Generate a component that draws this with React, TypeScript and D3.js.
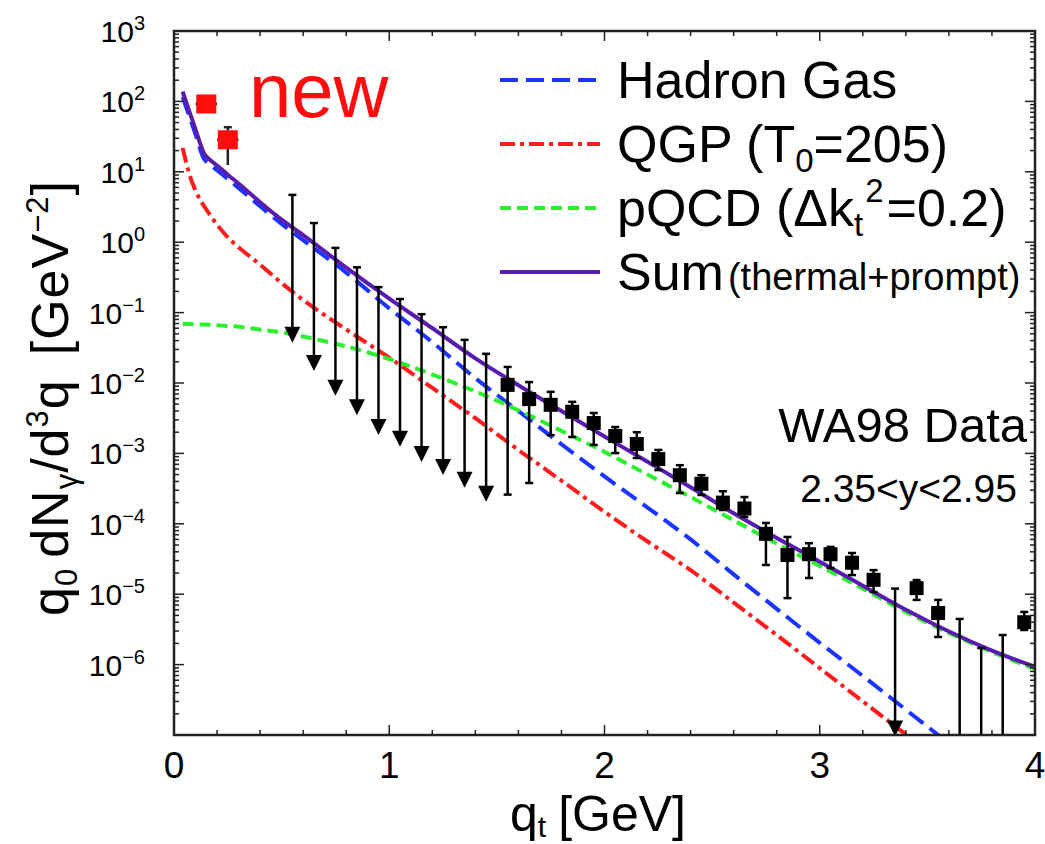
import React from 'react';
import * as d3 from 'd3';

// Plot geometry
const W = 1045;
const H = 844;
const FRAME = { left: 174, right: 1035, top: 31, bottom: 735 };
const FONT = '"Liberation Sans", Arial, Helvetica, sans-serif';

// Model curves, q_t grid in GeV
const qGrid = [0.04, 0.07, 0.10, 0.14, 0.16, 0.20, 0.25, 0.30, 0.40, 0.50, 0.60, 0.80, 1.0, 1.2, 1.4, 1.6, 1.8, 2.0, 2.2, 2.4, 2.6, 2.8, 3.0, 3.2, 3.4, 3.6, 3.8, 4.0];

const hadronGas = [115, 63, 33.9, 15.1, 13.2, 10.5, 7.9, 5.9, 3.24, 1.82, 1.07, 0.37, 0.115, 0.038, 0.0117, 0.0040, 1.35e-3, 4.7e-4, 1.70e-4, 6.0e-5, 1.91e-5, 6.2e-6, 2.04e-6, 6.9e-7, 2.29e-7, 7.6e-8];

const qgp = [21.9, 9.5, 5.4, 3.24, 2.63, 1.78, 1.17, 0.85, 0.48, 0.263, 0.151, 0.0575, 0.0229, 0.0085, 0.00316, 1.12e-3, 4.1e-4, 1.48e-4, 5.6e-5, 2.19e-5, 7.6e-6, 2.63e-6, 8.9e-7, 3.0e-7, 1.02e-7, 3.5e-8];

const pqcd = [0.069, 0.069, 0.068, 0.0676, 0.0673, 0.066, 0.0646, 0.063, 0.0575, 0.0525, 0.0457, 0.0331, 0.0219, 0.0132, 0.0076, 0.0041, 2.09e-3, 1.05e-3, 5.0e-4, 2.4e-4, 1.12e-4, 5.25e-5, 2.51e-5, 1.20e-5, 5.6e-6, 2.82e-6, 1.51e-6, 8.7e-7];

const sumThermalPrompt = [138, 74, 40, 18.2, 15.5, 12.3, 9.1, 6.8, 3.7, 2.09, 1.26, 0.436, 0.158, 0.060, 0.0224, 0.0093, 0.0040, 1.74e-3, 7.6e-4, 3.3e-4, 1.41e-4, 6.3e-5, 2.9e-5, 1.32e-5, 6.0e-6, 2.95e-6, 1.58e-6, 9.3e-7];

// WA98 measured points
const wa98Q = [1.55, 1.65, 1.75, 1.85, 1.95, 2.05, 2.15, 2.25, 2.35, 2.45, 2.55, 2.65, 2.75, 2.85, 2.95, 3.05, 3.15, 3.25, 3.45, 3.55, 3.95];
const wa98Val = [0.0094, 0.0059, 0.0049, 0.0039, 0.0027, 1.77e-3, 1.36e-3, 8.3e-4, 4.9e-4, 3.7e-4, 2.0e-4, 1.65e-4, 7.2e-5, 3.6e-5, 3.7e-5, 3.7e-5, 2.8e-5, 1.6e-5, 1.22e-5, 5.4e-6, 4.0e-6];
const wa98Hi = [0.0169, 0.0103, 0.0075, 0.0054, 0.00375, 2.37e-3, 2.0e-3, 1.12e-3, 6.8e-4, 4.9e-4, 2.9e-4, 2.4e-4, 1.03e-4, 6.5e-5, 5.3e-5, 4.7e-5, 3.85e-5, 2.2e-5, 1.59e-5, 8.3e-6, 5.6e-6];
const wa98Lo = [2.6e-4, 3.8e-4, 1.82e-3, 1.71e-3, 1.32e-3, 1.01e-3, 8.6e-4, 5.8e-4, 2.74e-4, 2.57e-4, 1.57e-4, 1.25e-4, 2.6e-5, 8.8e-6, 1.7e-5, 2.36e-5, 1.87e-5, 1.07e-5, 8.3e-6, 2.47e-6, 3.1e-6];

// Points whose central value lies below the axis: only the upper error is visible
const wa98OpenQ = [3.65, 3.75, 3.85];
const wa98OpenHi = [4.45e-6, 1.72e-6, 2.63e-6];

// Upper limits
const limitQ = [0.55, 0.65, 0.75, 0.85, 0.95, 1.05, 1.15, 1.25, 1.35, 1.45, 3.35];
const limitVal = [4.7, 1.87, 0.83, 0.44, 0.23, 0.156, 0.095, 0.062, 0.041, 0.026, 1.2e-5];
const ARROW_DECADES = 2.1;

// New low-q_t points
const newQ = [0.15, 0.25];
const newVal = [92, 28.5];
const newHi = [92, 43];
const newLo = [92, 12.5];
const newQErr = [0.05, 0.05];

const xTickValues = [0, 1, 2, 3, 4];
const yTickExponents = [3, 2, 1, 0, -1, -2, -3, -4, -5, -6];

const COLORS = {
  hadron: '#1c34ff',
  qgp: '#ff1c1c',
  pqcd: '#2cf02c',
  sum: '#5a1cae',
  axis: '#222',
};

const STYLES = {
  hadron: { stroke: COLORS.hadron, dash: '18 8' },
  qgp: { stroke: COLORS.qgp, dash: '15 5 4 5' },
  pqcd: { stroke: COLORS.pqcd, dash: '11 6' },
  sum: { stroke: COLORS.sum, dash: undefined as string | undefined },
};

export default function App() {
  const x = d3.scaleLinear().domain([0, 4]).range([FRAME.left, FRAME.right]);
  const y = d3.scaleLog().domain([1e-7, 1e3]).range([FRAME.bottom, FRAME.top]);

  const curve = (vals: number[]) =>
    d3
      .line<number>()
      .x((_, i) => x(qGrid[i]))
      .y((v) => y(v))
      .curve(d3.curveMonotoneX)(vals) || '';

  // Log-axis ticks
  const yMajor: number[] = [];
  const yMinor: number[] = [];
  for (let e = -7; e <= 3; e++) {
    yMajor.push(Math.pow(10, e));
    if (e < 3) for (let k = 2; k <= 9; k++) yMinor.push(k * Math.pow(10, e));
  }
  const xMinor = d3.range(0, 4.001, 0.2).filter((v) => Math.abs(v - Math.round(v)) > 1e-6);

  const tickLines: JSX.Element[] = [];
  yMajor.forEach((v, i) => {
    const py = y(v);
    tickLines.push(<line key={`yl${i}`} x1={FRAME.left} x2={FRAME.left + 10} y1={py} y2={py} />);
    tickLines.push(<line key={`yr${i}`} x1={FRAME.right} x2={FRAME.right - 10} y1={py} y2={py} />);
  });
  yMinor.forEach((v, i) => {
    const py = y(v);
    tickLines.push(<line key={`yml${i}`} x1={FRAME.left} x2={FRAME.left + 5} y1={py} y2={py} />);
    tickLines.push(<line key={`ymr${i}`} x1={FRAME.right} x2={FRAME.right - 5} y1={py} y2={py} />);
  });
  xTickValues.forEach((v, i) => {
    const px = x(v);
    tickLines.push(<line key={`xb${i}`} x1={px} x2={px} y1={FRAME.bottom} y2={FRAME.bottom - 10} />);
    tickLines.push(<line key={`xt${i}`} x1={px} x2={px} y1={FRAME.top} y2={FRAME.top + 10} />);
  });
  xMinor.forEach((v, i) => {
    const px = x(v);
    tickLines.push(<line key={`xmb${i}`} x1={px} x2={px} y1={FRAME.bottom} y2={FRAME.bottom - 5} />);
    tickLines.push(<line key={`xmt${i}`} x1={px} x2={px} y1={FRAME.top} y2={FRAME.top + 5} />);
  });

  const series = [
    { key: 'hadron', vals: hadronGas, s: STYLES.hadron },
    { key: 'qgp', vals: qgp, s: STYLES.qgp },
    { key: 'pqcd', vals: pqcd, s: STYLES.pqcd },
    { key: 'sum', vals: sumThermalPrompt, s: STYLES.sum },
  ];

  const legend = [
    { s: STYLES.hadron, ly: 80 },
    { s: STYLES.qgp, ly: 144 },
    { s: STYLES.pqcd, ly: 208 },
    { s: STYLES.sum, ly: 272 },
  ];

  const cap = 4;
  const mark = 14;

  return (
    <svg
      width={W}
      height={H}
      viewBox={`0 0 ${W} ${H}`}
      style={{ position: 'absolute', left: 0, top: 0, display: 'block', background: '#fff' }}
      fontFamily={FONT}
    >
      <defs>
        <clipPath id="plotArea">
          <rect x={FRAME.left} y={FRAME.top} width={FRAME.right - FRAME.left} height={FRAME.bottom - FRAME.top} />
        </clipPath>
      </defs>

      {/* model curves */}
      <g clipPath="url(#plotArea)" fill="none" strokeWidth={4}>
        {series.map((sr) => (
          <path key={sr.key} d={curve(sr.vals)} stroke={sr.s.stroke} strokeDasharray={sr.s.dash} />
        ))}
      </g>

      {/* upper-limit arrows */}
      <g stroke="#000" strokeWidth={2.5} fill="#000">
        {limitQ.map((q, i) => {
          const px = x(q);
          const top = y(limitVal[i]);
          const tip = y(limitVal[i] / Math.pow(10, ARROW_DECADES));
          const head = 16;
          return (
            <g key={`lim${i}`}>
              <line x1={px - cap} x2={px + cap} y1={top} y2={top} />
              <line x1={px} x2={px} y1={top} y2={tip - head + 2} />
              <path d={`M${px - 8},${tip - head} L${px + 8},${tip - head} L${px},${tip} Z`} stroke="none" />
            </g>
          );
        })}
      </g>

      {/* WA98 data */}
      <g stroke="#000" strokeWidth={2.5}>
        {wa98Q.map((q, i) => {
          const px = x(q);
          const hi = y(wa98Hi[i]);
          const lo = y(wa98Lo[i]);
          return (
            <g key={`pt${i}`}>
              <line x1={px} x2={px} y1={hi} y2={lo} />
              <line x1={px - cap} x2={px + cap} y1={hi} y2={hi} />
              <line x1={px - cap} x2={px + cap} y1={lo} y2={lo} />
              <rect x={px - mark / 2} y={y(wa98Val[i]) - mark / 2} width={mark} height={mark} fill="#000" stroke="none" />
            </g>
          );
        })}
        {wa98OpenQ.map((q, i) => {
          const px = x(q);
          const hi = y(wa98OpenHi[i]);
          return (
            <g key={`op${i}`}>
              <line x1={px} x2={px} y1={hi} y2={FRAME.bottom} />
              <line x1={px - cap} x2={px + cap} y1={hi} y2={hi} />
            </g>
          );
        })}
      </g>

      {/* new low-q_t points */}
      <g stroke="#222" strokeWidth={2.5}>
        {newQ.map((q, i) => {
          const px = x(q);
          const py = y(newVal[i]);
          return (
            <g key={`new${i}`}>
              <line x1={x(q - newQErr[i])} x2={x(q + newQErr[i])} y1={py} y2={py} />
              <line x1={px} x2={px} y1={y(newHi[i])} y2={y(newLo[i])} />
              <line x1={px - cap} x2={px + cap} y1={y(newHi[i])} y2={y(newHi[i])} />
              <rect x={px - 10} y={py - 9.5} width={20} height={19} fill="#ff0d0d" stroke="none" />
            </g>
          );
        })}
      </g>

      {/* frame and ticks */}
      <g stroke={COLORS.axis} strokeWidth={1.5}>{tickLines}</g>
      <rect
        x={FRAME.left}
        y={FRAME.top}
        width={FRAME.right - FRAME.left}
        height={FRAME.bottom - FRAME.top}
        fill="none"
        stroke={COLORS.axis}
        strokeWidth={2.5}
      />

      {/* tick labels */}
      <g fill="#000">
        {yTickExponents.map((e) => (
          <text key={`yt${e}`} x={145} y={y(Math.pow(10, e)) + 11} textAnchor="end" fontSize={30}>
            10
            <tspan dy={-12} fontSize={20}>
              {e < 0 ? `\u2212${-e}` : `${e}`}
            </tspan>
          </text>
        ))}
        {xTickValues.map((v) => (
          <text key={`xt${v}`} x={x(v)} y={778} textAnchor="middle" fontSize={37}>
            {v}
          </text>
        ))}
      </g>

      {/* axis titles */}
      <text x={598} y={831} textAnchor="middle" fontSize={50}>
        q<tspan dy={6} fontSize={30}>t</tspan>
        <tspan dy={-6} dx={12}>[GeV]</tspan>
      </text>
      <text transform="translate(68,398) rotate(-90)" textAnchor="middle" fontSize={52} letterSpacing={1}>
        q<tspan dy={9} fontSize={31}>0</tspan>
        <tspan dy={-9} dx={10}>dN</tspan>
        <tspan dy={9} fontSize={31}>γ</tspan>
        <tspan dy={-9}>/d</tspan>
        <tspan dy={-20} fontSize={31}>3</tspan>
        <tspan dy={20}>q</tspan>
        <tspan dx={24}>[GeV</tspan>
        <tspan dy={-20} fontSize={31}>−2</tspan>
        <tspan dy={20}>]</tspan>
      </text>

      {/* legend */}
      <g fill="none" strokeWidth={4}>
        {legend.map((l, i) => (
          <line key={`lg${i}`} x1={500} x2={600} y1={l.ly} y2={l.ly} stroke={l.s.stroke} strokeDasharray={l.s.dash} />
        ))}
      </g>
      <g fill="#000" fontSize={52}>
        <text x={617} y={98}>Hadron Gas</text>
        <text x={617} y={162}>
          QGP (T<tspan dy={10} fontSize={33}>0</tspan>
          <tspan dy={-10}>=205)</tspan>
        </text>
        <text x={617} y={226}>
          pQCD (Δk<tspan dy={10} fontSize={33}>t</tspan>
          <tspan dy={-34} dx={2} fontSize={33}>2</tspan>
          <tspan dy={24} dx={3}>=0.2)</tspan>
        </text>
        <text x={617} y={290}>
          Sum<tspan fontSize={38} dx={4}>(thermal+prompt)</tspan>
        </text>
      </g>

      {/* annotations */}
      <text x={249} y={117} fontSize={76} fill="#ff0d0d">new</text>
      <text x={1027} y={442} textAnchor="end" fontSize={49} fill="#000">WA98 Data</text>
      <text x={1017} y={502} textAnchor="end" fontSize={39} fill="#000">2.35&lt;y&lt;2.95</text>
    </svg>
  );
}
